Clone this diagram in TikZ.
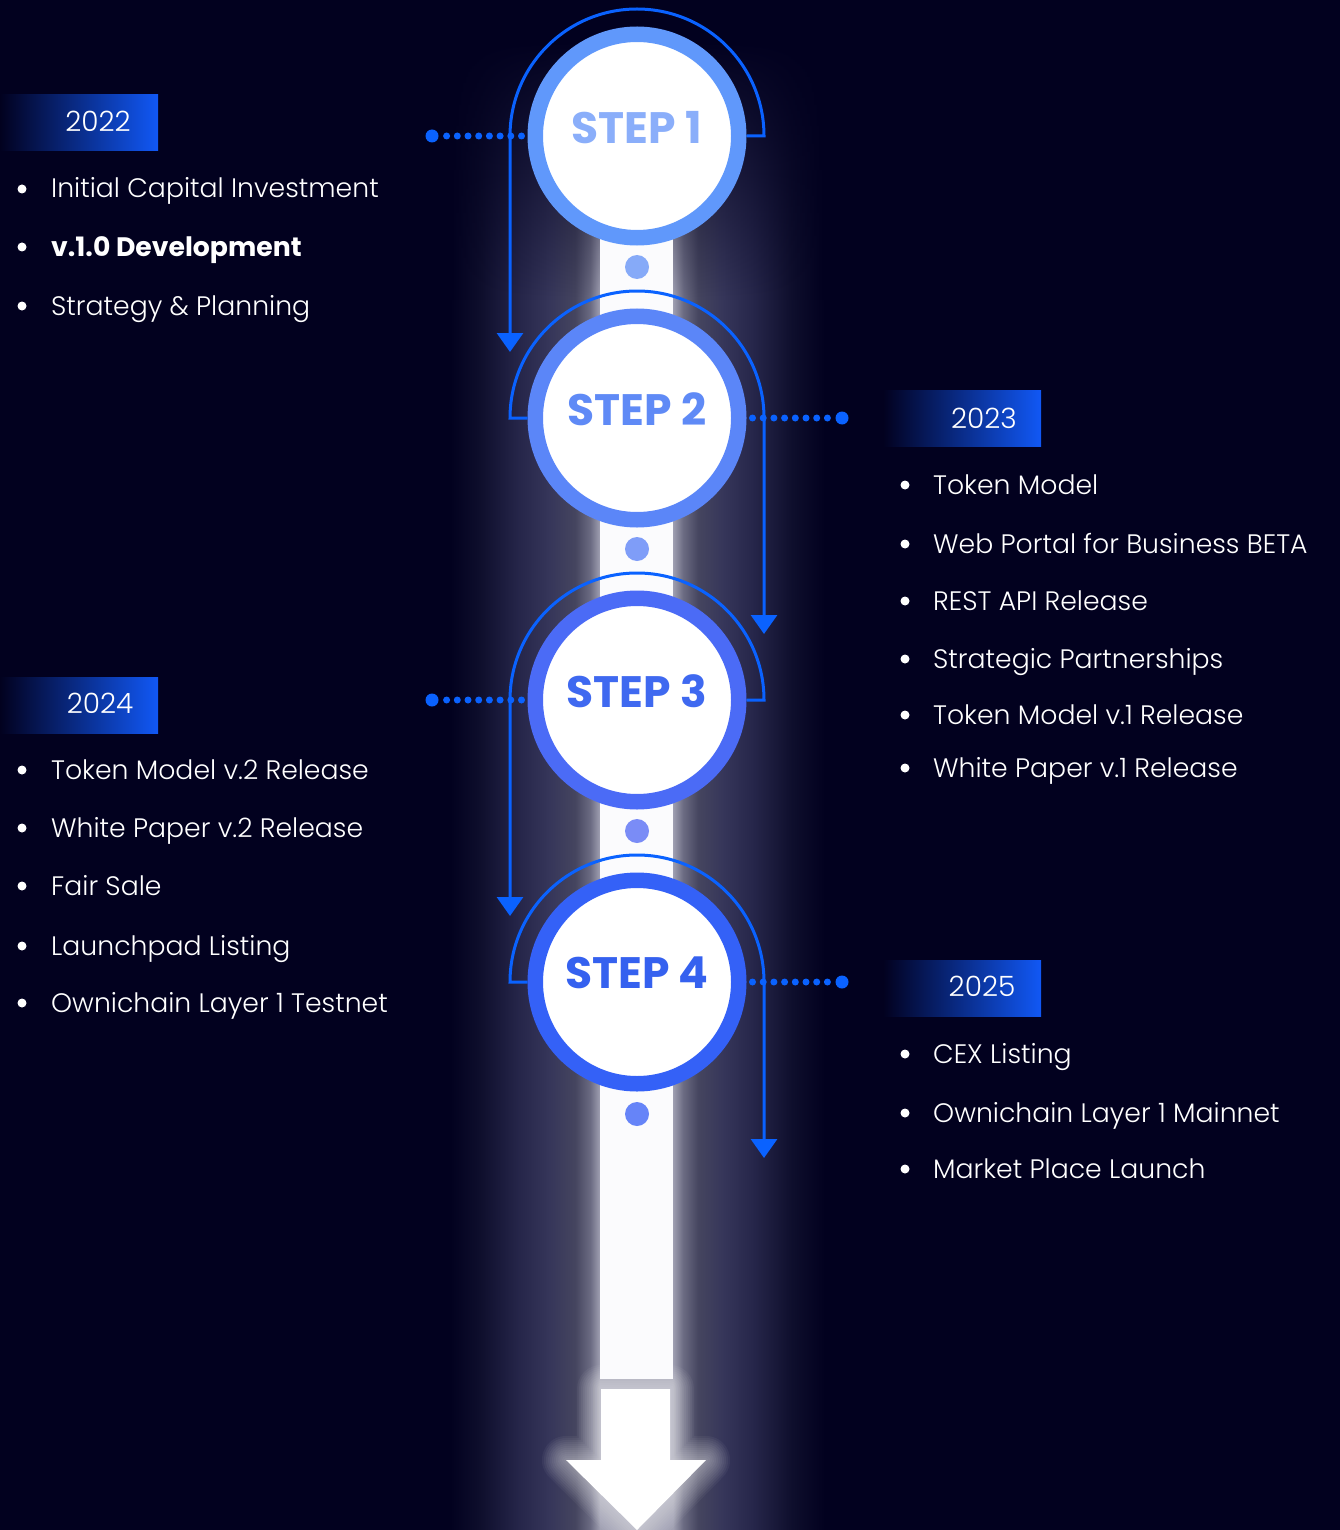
\documentclass[tikz,border=0pt]{standalone}
\usepackage{fontspec}
\usepackage{xcolor}
\usepackage{tikz}
\usetikzlibrary{calc}
\usetikzlibrary{positioning,arrows.meta}
\usetikzlibrary{fadings}

\setmainfont{Poppins}
\IfFontExistsTF{Poppins Light}{\newfontfamily\itemfont{Poppins Light}}{\newfontfamily\itemfont{Poppins}}
\newfontfamily\stepfont{Poppins}

\definecolor{bgnavy}{HTML}{02011F}
\definecolor{lineblue}{HTML}{0A62FF}
\definecolor{yearblue}{HTML}{1158F5}
\definecolor{barwhite}{HTML}{FBFBFD}
\definecolor{glowA}{HTML}{0E0E2C}
\definecolor{glowB}{HTML}{26264A}
\definecolor{glowC}{HTML}{36365A}
\definecolor{glowD}{HTML}{45455F}
\definecolor{glowE}{HTML}{6B6B82}
\definecolor{glowF}{HTML}{A0A0B2}
\definecolor{ringA}{HTML}{6098FB}
\definecolor{ringB}{HTML}{5B86F8}
\definecolor{ringC}{HTML}{4B6BF6}
\definecolor{ringD}{HTML}{3461F7}
\definecolor{stepA}{HTML}{8AAEFA}
\definecolor{stepB}{HTML}{5F8AF6}
\definecolor{stepC}{HTML}{3F69F0}
\definecolor{stepD}{HTML}{3561EF}
\definecolor{dotA}{HTML}{86AAF8}
\definecolor{dotB}{HTML}{7F9DF8}
\definecolor{dotC}{HTML}{7A8CF6}
\definecolor{dotD}{HTML}{6684F8}

\pgfdeclarehorizontalshading{glow}{100bp}{color(0bp)=(bgnavy); color(25bp)=(bgnavy); color(29bp)=(glowA); color(34.3bp)=(glowB); color(38.3bp)=(glowC); color(41.7bp)=(glowD); color(43.7bp)=(glowE); color(45bp)=(glowF); color(54.7bp)=(glowF); color(56.1bp)=(glowE); color(58.1bp)=(glowD); color(61.4bp)=(glowC); color(65.4bp)=(glowB); color(70.7bp)=(glowA); color(75bp)=(bgnavy); color(100bp)=(bgnavy)}
\tikzfading[name=glow fade, top color=transparent!100, bottom color=transparent!0]

\tikzset{
	stepcircle/.style={circle,fill=white,line width=15.5pt,minimum size=203.5pt,inner sep=0pt,text depth=18pt,font=\stepfont\bfseries\fontsize{44}{44}\selectfont},
	middot/.style={circle,inner sep=0pt,minimum size=24pt},
	enddot/.style={circle,fill=lineblue,inner sep=0pt,minimum size=13pt},
	dotline/.style={lineblue,line width=7pt,line cap=round,dash pattern=on 0pt off 10.7pt,shorten <=6pt},
	stepline/.style={lineblue,line width=3pt,-{Triangle[width=26pt,length=19pt]}},
	yearbox/.style={left color=bgnavy,right color=yearblue,minimum width=158pt,minimum height=56pt,inner sep=0pt},
	yeartext/.style={text=white,inner sep=0pt,font=\itemfont\fontsize{28}{28}\selectfont},
	itemtext/.style={anchor=base west,text=white,inner sep=0pt,font=\itemfont\fontsize{26.7}{27}\selectfont}
}

\begin{document}
\begin{tikzpicture}[x=1pt,y=1pt]
	\useasboundingbox (0,0) rectangle (1340,-1530);
	\fill[bgnavy] (0,0) rectangle (1340,-1530);
	\shade[shading=glow,path fading=glow fade] (450,-40) rectangle (825,-300);
	\shade[shading=glow] (450,-300) rectangle (825,-1530);
	\fill[barwhite] (600,-230) rectangle (673,-1379);
	\foreach \w in {4,8,...,48}
		\draw[white,opacity=0.045,line width=\w pt,line join=round] (601,-1389) -- (670,-1389) -- (670,-1460) -- (706,-1460) -- (637,-1530) -- (566,-1460) -- (601,-1460) -- cycle;
	\fill[white] (601,-1389) -- (670,-1389) -- (670,-1460) -- (706,-1460) -- (637,-1530) -- (566,-1460) -- (601,-1460) -- cycle;

	\node[middot,fill=dotA] (m1) at (637,-267) {};
	\node[middot,fill=dotB] (m2) at (637,-549) {};
	\node[middot,fill=dotC] (m3) at (637,-831) {};
	\node[middot,fill=dotD] (m4) at (637,-1114) {};

	\node[stepcircle,draw=ringA,text=stepA] (s1) at (637,-136) {STEP 1};
	\node[stepcircle,draw=ringB,text=stepB] (s2) at (637,-418) {STEP 2};
	\node[stepcircle,draw=ringC,text=stepC] (s3) at (637,-700) {STEP 3};
	\node[stepcircle,draw=ringD,text=stepD] (s4) at (637,-982) {STEP 4};

	\coordinate (t1) at (510,-352);
	\coordinate (t2) at (764,-634);
	\coordinate (t3) at (510,-916);
	\coordinate (t4) at (764,-1158);
	\draw[stepline] (s1.east) -- ($(s1.center)+(127,0)$) arc[start angle=0,end angle=180,radius=127] -- (t1);
	\draw[stepline] (s2.west) -- ($(s2.center)+(-127,0)$) arc[start angle=180,end angle=0,radius=127] -- (t2);
	\draw[stepline] (s3.east) -- ($(s3.center)+(127,0)$) arc[start angle=0,end angle=180,radius=127] -- (t3);
	\draw[stepline] (s4.west) -- ($(s4.center)+(-127,0)$) arc[start angle=180,end angle=0,radius=127] -- (t4);

	\node[enddot] (d1) at (432,-136) {};
	\node[enddot] (d2) at (842,-418) {};
	\node[enddot] (d3) at (432,-700) {};
	\node[enddot] (d4) at (842,-982) {};
	\draw[dotline] (s1.west) -- (d1);
	\draw[dotline] (s2.east) -- (d2);
	\draw[dotline] (s3.west) -- (d3);
	\draw[dotline] (s4.east) -- (d4);

	\node[yearbox] (b22) at (79,-123) {};
	\node[yearbox] (b23) at (962,-418) {};
	\node[yearbox] (b24) at (79,-705) {};
	\node[yearbox] (b25) at (962,-988) {};
	\node[yeartext] (y22) at ([xshift=19pt,yshift=2pt]b22.center) {2022};
	\node[yeartext] (y23) at ([xshift=22pt]b23.center) {2023};
	\node[yeartext] (y24) at ([xshift=21pt,yshift=2pt]b24.center) {2024};
	\node[yeartext] (y25) at ([xshift=20pt,yshift=2pt]b25.center) {2025};

	\foreach \y/\t [count=\i] in {188/Initial Capital Investment,246/{\stepfont\bfseries v.1.0 Development},305/Strategy \& Planning}{
		\fill[white] (22,-\y-1) circle (4.5);
		\node[itemtext] (a\i) at (51,-\y-10) {\t};
	}
	\foreach \y/\t [count=\i] in {484/Token Model,543/Web Portal for Business BETA,600/REST API Release,658/Strategic Partnerships,714/Token Model v.1 Release,767/White Paper v.1 Release}{
		\fill[white] (905,-\y-1) circle (4.5);
		\node[itemtext] (b\i) at (933,-\y-10) {\t};
	}
	\foreach \y/\t [count=\i] in {769/Token Model v.2 Release,827/White Paper v.2 Release,885/Fair Sale,945/Launchpad Listing,1002/Ownichain Layer 1 Testnet}{
		\fill[white] (22,-\y-1) circle (4.5);
		\node[itemtext] (c\i) at (51,-\y-10) {\t};
	}
	\foreach \y/\t [count=\i] in {1053/CEX Listing,1112/Ownichain Layer 1 Mainnet,1168/Market Place Launch}{
		\fill[white] (905,-\y-1) circle (4.5);
		\node[itemtext] (e\i) at (933,-\y-10) {\t};
	}
\end{tikzpicture}
\end{document}
